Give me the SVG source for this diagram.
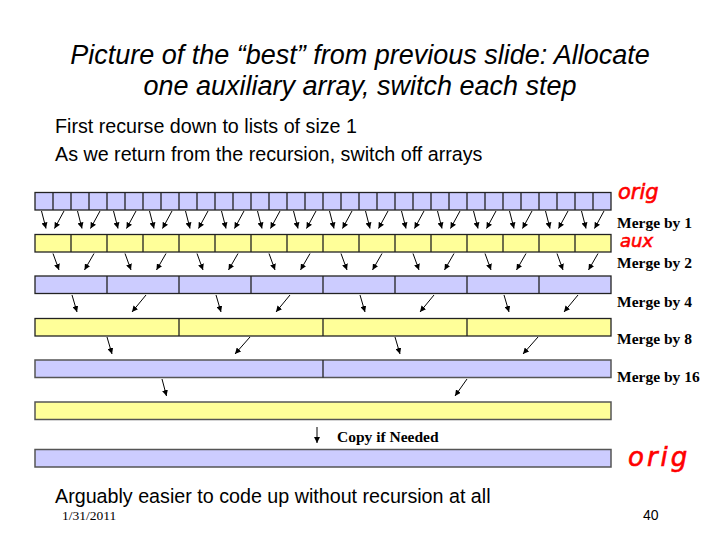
<svg xmlns="http://www.w3.org/2000/svg" width="720" height="540" viewBox="0 0 720 540">
<style>
.title{font-family:"Liberation Sans",Arial,sans-serif;font-style:italic;font-size:27px;fill:#000}
.body{font-family:"Liberation Sans",Arial,sans-serif;font-size:19.7px;fill:#000}
.lbl{font-family:"Liberation Serif","Times New Roman",serif;font-weight:bold;font-size:15.5px;fill:#000}
.blue{fill:#CCCCFF;stroke:#222;stroke-width:1.3}
.yel{fill:#FFFF99;stroke:#222;stroke-width:1.3}
.blue2{fill:#CCCCFF;stroke:#555;stroke-width:1.5}
.yel2{fill:#FFFF99;stroke:#555;stroke-width:1.5}
.div{stroke:#222;stroke-width:1.3;fill:none}
.arr{stroke:#000;stroke-width:1;fill:none;marker-end:url(#ah)}
.hand{font-family:"DejaVu Sans","Liberation Sans",sans-serif;font-style:italic;fill:#FF0000;stroke:#FF0000;stroke-width:0.6}
</style>
<defs>
<marker id="ah" viewBox="0 0 10 10" refX="10" refY="5" markerWidth="6" markerHeight="6" markerUnits="userSpaceOnUse" orient="auto">
<path d="M0,0 L10,5 L0,10 z" fill="#000"/>
</marker>
</defs>
<rect width="720" height="540" fill="#fff"/>

<g id="title">
<text class="title" x="360" y="64" text-anchor="middle">Picture of the “best” from previous slide: Allocate</text>
<text class="title" x="360" y="95" text-anchor="middle">one auxiliary array, switch each step</text>
</g>
<g id="bullets">
<text class="body" x="55" y="133">First recurse down to lists of size 1</text>
<text class="body" x="55" y="161">As we return from the recursion, switch off arrays</text>
<text class="body" x="55" y="503">Arguably easier to code up without recursion at all</text>
</g>

<g id="row1">
<rect class="blue" x="35" y="192.5" width="576" height="17.5"/>
<path class="div" d="M53 192.5V210M71 192.5V210M89 192.5V210M107 192.5V210M125 192.5V210M143 192.5V210M161 192.5V210M179 192.5V210M197 192.5V210M215 192.5V210M233 192.5V210M251 192.5V210M269 192.5V210M287 192.5V210M305 192.5V210M323 192.5V210M341 192.5V210M359 192.5V210M377 192.5V210M395 192.5V210M413 192.5V210M431 192.5V210M449 192.5V210M467 192.5V210M485 192.5V210M503 192.5V210M521 192.5V210M539 192.5V210M557 192.5V210M575 192.5V210M593 192.5V210"/>
</g>
<g id="row2">
<rect class="yel" x="35" y="234.5" width="576" height="17.5"/>
<path class="div" d="M71 234.5V252M107 234.5V252M143 234.5V252M179 234.5V252M215 234.5V252M251 234.5V252M287 234.5V252M323 234.5V252M359 234.5V252M395 234.5V252M431 234.5V252M467 234.5V252M503 234.5V252M539 234.5V252M575 234.5V252"/>
</g>
<g id="row3">
<rect class="blue" x="35" y="276" width="576" height="17.5"/>
<path class="div" d="M107 276V293.5M179 276V293.5M251 276V293.5M323 276V293.5M395 276V293.5M467 276V293.5M539 276V293.5"/>
</g>
<g id="row4">
<rect class="yel" x="35" y="318.5" width="576" height="17.5"/>
<path class="div" d="M179 318.5V336M323 318.5V336M467 318.5V336"/>
</g>
<g id="row5">
<rect class="blue2" x="35" y="360" width="576" height="17.5"/>
<path class="div" d="M323 360V377.5"/>
</g>
<g id="row6">
<rect class="yel2" x="35" y="402" width="576" height="17.5"/>
</g>
<g id="row7">
<rect class="blue2" x="35" y="449.5" width="576" height="17.5"/>
</g>

<g id="connectors">
<line class="arr" x1="41.5" y1="211" x2="46" y2="228.5"/><line class="arr" x1="64" y1="211" x2="54.5" y2="228.5"/>
<line class="arr" x1="77.5" y1="211" x2="82" y2="228.5"/><line class="arr" x1="100" y1="211" x2="90.5" y2="228.5"/>
<line class="arr" x1="113.5" y1="211" x2="118" y2="228.5"/><line class="arr" x1="136" y1="211" x2="126.5" y2="228.5"/>
<line class="arr" x1="149.5" y1="211" x2="154" y2="228.5"/><line class="arr" x1="172" y1="211" x2="162.5" y2="228.5"/>
<line class="arr" x1="185.5" y1="211" x2="190" y2="228.5"/><line class="arr" x1="208" y1="211" x2="198.5" y2="228.5"/>
<line class="arr" x1="221.5" y1="211" x2="226" y2="228.5"/><line class="arr" x1="244" y1="211" x2="234.5" y2="228.5"/>
<line class="arr" x1="257.5" y1="211" x2="262" y2="228.5"/><line class="arr" x1="280" y1="211" x2="270.5" y2="228.5"/>
<line class="arr" x1="293.5" y1="211" x2="298" y2="228.5"/><line class="arr" x1="316" y1="211" x2="306.5" y2="228.5"/>
<line class="arr" x1="329.5" y1="211" x2="334" y2="228.5"/><line class="arr" x1="352" y1="211" x2="342.5" y2="228.5"/>
<line class="arr" x1="365.5" y1="211" x2="370" y2="228.5"/><line class="arr" x1="388" y1="211" x2="378.5" y2="228.5"/>
<line class="arr" x1="401.5" y1="211" x2="406" y2="228.5"/><line class="arr" x1="424" y1="211" x2="414.5" y2="228.5"/>
<line class="arr" x1="437.5" y1="211" x2="442" y2="228.5"/><line class="arr" x1="460" y1="211" x2="450.5" y2="228.5"/>
<line class="arr" x1="473.5" y1="211" x2="478" y2="228.5"/><line class="arr" x1="496" y1="211" x2="486.5" y2="228.5"/>
<line class="arr" x1="509.5" y1="211" x2="514" y2="228.5"/><line class="arr" x1="532" y1="211" x2="522.5" y2="228.5"/>
<line class="arr" x1="545.5" y1="211" x2="550" y2="228.5"/><line class="arr" x1="568" y1="211" x2="558.5" y2="228.5"/>
<line class="arr" x1="581.5" y1="211" x2="586" y2="228.5"/><line class="arr" x1="604" y1="211" x2="594.5" y2="228.5"/>

<line class="arr" x1="53" y1="253.5" x2="59" y2="270"/><line class="arr" x1="94" y1="253.5" x2="84.5" y2="270"/>
<line class="arr" x1="125" y1="253.5" x2="131" y2="270"/><line class="arr" x1="166" y1="253.5" x2="156.5" y2="270"/>
<line class="arr" x1="197" y1="253.5" x2="203" y2="270"/><line class="arr" x1="238" y1="253.5" x2="228.5" y2="270"/>
<line class="arr" x1="269" y1="253.5" x2="275" y2="270"/><line class="arr" x1="310" y1="253.5" x2="300.5" y2="270"/>
<line class="arr" x1="341" y1="253.5" x2="347" y2="270"/><line class="arr" x1="382" y1="253.5" x2="372.5" y2="270"/>
<line class="arr" x1="413" y1="253.5" x2="419" y2="270"/><line class="arr" x1="454" y1="253.5" x2="444.5" y2="270"/>
<line class="arr" x1="485" y1="253.5" x2="491" y2="270"/><line class="arr" x1="526" y1="253.5" x2="516.5" y2="270"/>
<line class="arr" x1="557" y1="253.5" x2="563" y2="270"/><line class="arr" x1="598" y1="253.5" x2="588.5" y2="270"/>

<line class="arr" x1="72" y1="295" x2="77" y2="312"/><line class="arr" x1="146" y1="295" x2="132" y2="312"/>
<line class="arr" x1="216" y1="295" x2="221" y2="312"/><line class="arr" x1="290" y1="295" x2="276" y2="312"/>
<line class="arr" x1="360" y1="295" x2="365" y2="312"/><line class="arr" x1="434" y1="295" x2="420" y2="312"/>
<line class="arr" x1="504" y1="295" x2="509" y2="312"/><line class="arr" x1="578" y1="295" x2="564" y2="312"/>

<line class="arr" x1="107" y1="337" x2="112" y2="354"/><line class="arr" x1="250" y1="337" x2="235" y2="354"/>
<line class="arr" x1="395" y1="337" x2="400" y2="354"/><line class="arr" x1="538" y1="337" x2="523" y2="354"/>

<line class="arr" x1="162" y1="379" x2="166.5" y2="396"/><line class="arr" x1="467" y1="379" x2="455" y2="396"/>

<line class="arr" x1="317" y1="427" x2="317" y2="443"/>
</g>

<g id="labels">
<text class="lbl" x="617" y="228">Merge by 1</text>
<text class="lbl" x="617" y="267.5">Merge by 2</text>
<text class="lbl" x="617" y="306.5">Merge by 4</text>
<text class="lbl" x="617" y="344">Merge by 8</text>
<text class="lbl" x="617" y="382">Merge by 16</text>
<text class="lbl" x="337" y="442">Copy if Needed</text>
</g>

<g id="annotations">
<text class="hand" x="618" y="199" font-size="21">orig</text>
<text class="hand" x="620" y="247" font-size="18">aux</text>
<text class="hand" x="628" y="466" font-size="26" letter-spacing="3">orig</text>
</g>

<g id="footer">
<text x="62" y="519.5" font-family="Liberation Serif,Times New Roman,serif" font-size="13.5">1/31/2011</text>
<text x="643" y="519.5" font-family="Liberation Sans,Arial,sans-serif" font-size="14">40</text>
</g>
</svg>
